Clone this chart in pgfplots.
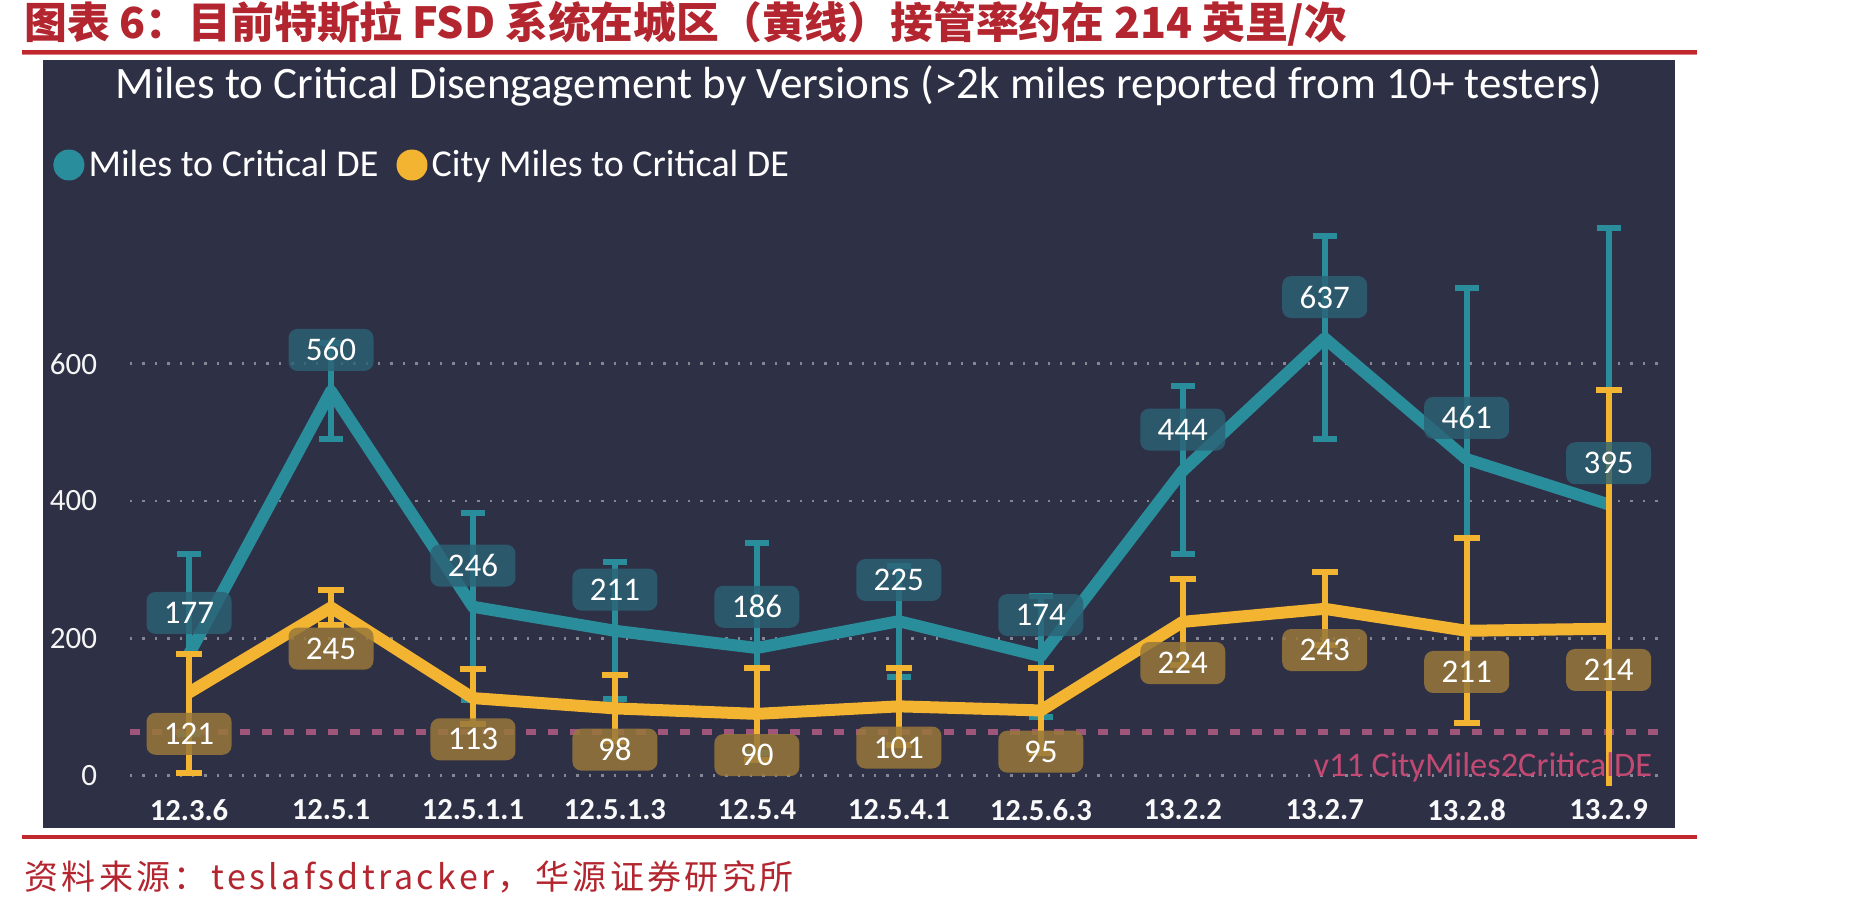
\documentclass[border=0pt]{standalone}
\usepackage{fontspec}
\usepackage{pgfplots}
\pgfplotsset{compat=1.18}
\usepackage{pgfplotstable}
\setmainfont{Carlito}
\newfontfamily\cjk{Noto Sans CJK SC}
\newfontfamily\cjksrc[LetterSpace=10]{Noto Sans CJK SC}
\definecolor{panel}{HTML}{2E3046}
\definecolor{tealc}{HTML}{2A8D9C}
\definecolor{orangec}{HTML}{F3B431}
\definecolor{tealbox}{HTML}{2C6275}
\definecolor{orbox}{HTML}{98773A}
\definecolor{pinkdash}{HTML}{A0567A}
\definecolor{pinktext}{HTML}{C24A72}
\definecolor{gridc}{HTML}{858894}
\definecolor{titlered}{HTML}{B3262F}
\definecolor{rulered}{HTML}{C0282E}

\pgfplotstableread{
x y ep em
0 177 146 117
1 560 70 70
2 246 136 136
3 211 100 100
4 186 153 153
5 225 81 81
6 174 88 88
7 444 123 121
8 637 149 146
9 461 249 249
10 395 403 420
}\tealdata

\pgfplotstableread{
x y ep em
0 121 56 117
1 245 25 25
2 113 42 38
3 98 48 48
4 90 67 67
5 101 56 56
6 95 62 62
7 224 63 63
8 243 53 53
9 211 135 134
10 214 348 260
}\orangedata

\begin{document}
\begin{tikzpicture}
\path[use as bounding box] (0pt,0pt) rectangle (926pt,454.5pt);
\fill[white] (0pt,0pt) rectangle (926pt,454.5pt);
\node[anchor=west, text=titlered, font=\cjk\bfseries\fontsize{21.4}{24}\selectfont, inner sep=0] at (12pt,442.5pt) {图表 6：目前特斯拉 FSD 系统在城区（黄线）接管率约在 214 英里/次};
\draw[rulered, line width=2pt] (11pt,428.5pt) -- (848.5pt,428.5pt);
\draw[rulered!60!white, line width=0.6pt] (11pt,427.1pt) -- (848.5pt,427.1pt);
\fill[panel] (21.5pt,40.5pt) rectangle (837.5pt,424.5pt);
\draw[rulered, line width=2pt] (11pt,36pt) -- (848.5pt,36pt);
\node[anchor=west, text=titlered, font=\cjksrc\fontsize{17}{20}\selectfont, inner sep=0] at (12pt,16pt) {资料来源：teslafsdtracker，华源证券研究所};
\node[text=white, font=\fontsize{22.5}{26}\selectfont, inner sep=0] at (429.5pt,411.5pt) {Miles to Critical Disengagement by Versions (>2k miles reported from 10+ testers)};
\begin{axis}[
  at={(65pt,61.5pt)}, anchor=south west,
  scale only axis, width=764.5pt, height=286.7pt,
  xmin=-0.416, xmax=10.355, ymin=-15, ymax=820,
  axis line style={draw=none},
  ytick={0,200,400,600},
  xtick={0,...,10},
  xticklabels={12.3.6,12.5.1,12.5.1.1,12.5.1.3,12.5.4,12.5.4.1,12.5.6.3,13.2.2,13.2.7,13.2.8,13.2.9},
  ymajorgrids,
  grid style={gridc, line width=1.2pt, dash pattern=on 1.2pt off 5pt},
  major tick length=0pt,
  /pgf/number format/assume math mode=true,
  yticklabel style={text=white!92!gray, font=\fontsize{15.5}{18}\selectfont, anchor=east, inner sep=0pt, xshift=-16.3pt},
  xticklabel style={text=white!95!gray, font=\bfseries\fontsize{15.3}{18}\selectfont, anchor=center, yshift=-12pt},
  legend style={at={(axis description cs:-0.0504,1.083)}, anchor=west, draw=none, fill=none, text=white, font=\fontsize{19}{22}\selectfont, legend columns=2, inner sep=0pt, /tikz/every even column/.append style={column sep=7pt}},
]
\addplot[pinkdash, line width=3.2pt, dash pattern=on 5pt off 6pt, forget plot] coordinates {(-0.416,64) (10.355,64)};
\addplot[tealc, line width=6pt, line join=round,
  legend image code/.code={\fill[tealc] (1.7pt,0pt) circle (4.8pt);},
  error bars/.cd, y dir=both, y explicit,
  error bar style={line width=3pt, tealc},
  error mark options={rotate=90, mark size=6pt, line width=3pt, tealc}]
  table[x=x, y=y, y error plus=ep, y error minus=em] {\tealdata};
\addlegendentry{Miles to Critical DE}
\addplot[orangec, line width=6pt, line join=round,
  legend image code/.code={\fill[orangec] (1.7pt,0pt) circle (4.8pt);},
  error bars/.cd, y dir=both, y explicit,
  error bar style={line width=3pt, orangec},
  error mark options={rotate=90, mark size=6.5pt, line width=3pt, orangec}]
  table[x=x, y=y, y error plus=ep, y error minus=em] {\orangedata};
\addlegendentry{City Miles to Critical DE}
\addplot[draw=none, forget plot, nodes near coords,
  nodes near coords style={anchor=center, yshift=20.6pt, text=white, fill=tealbox, fill opacity=0.8, text opacity=1, rounded corners=4.5pt, minimum width=42.5pt, minimum height=21pt, inner sep=0pt, font=\fontsize{16.5}{18}\selectfont}]
  table[x=x, y=y] {\tealdata};
\addplot[draw=none, forget plot, nodes near coords,
  nodes near coords style={anchor=center, yshift=-20.6pt, text=white, fill=orbox, fill opacity=0.85, text opacity=1, rounded corners=4.5pt, minimum width=42.5pt, minimum height=21pt, inner sep=0pt, font=\fontsize{16.5}{18}\selectfont}]
  table[x=x, y=y] {\orangedata};
\node[anchor=east, text=pinktext, font=\fontsize{17.2}{20}\selectfont, inner sep=0] at (axis cs:10.31,12) {v11 CityMiles2CriticalDE};
\end{axis}
\end{tikzpicture}
\end{document}
